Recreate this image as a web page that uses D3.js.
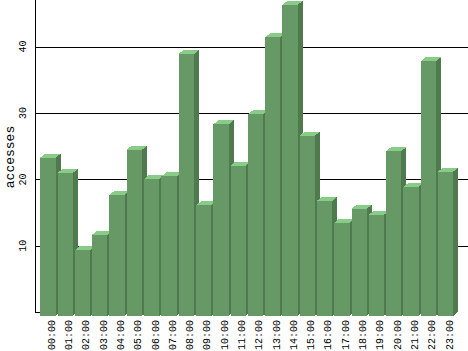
<!DOCTYPE html>
<html>
<head>
<meta charset="utf-8">
<script src="https://cdn.jsdelivr.net/npm/d3@7"></script>
<style>
  body { margin: 0; background: #fff; }
  text { font-family: "Liberation Mono", "DejaVu Sans Mono", monospace; fill: #000; }
</style>
</head>
<body>
<div id="chart"></div>
<script>
// hourly accesses
const hours = ["00:00","01:00","02:00","03:00","04:00","05:00","06:00","07:00",
               "08:00","09:00","10:00","11:00","12:00","13:00","14:00","15:00",
               "16:00","17:00","18:00","19:00","20:00","21:00","22:00","23:00"];
const accesses = [23.8, 21.5, 9.9, 12.2, 18.2, 25.0, 20.6, 21.0,
                  39.4, 16.6, 28.8, 22.6, 30.3, 41.9, 46.8, 27.1,
                  17.3, 14.0, 16.1, 15.2, 24.8, 19.4, 38.3, 21.7];
const yTicks = [10, 20, 30, 40];

const W = 468, H = 351;
const axisX = 35.5;
const dx = 5, dy = 4, shift = 3.5; // 3d depth and front face offset

const svg = d3.select("#chart").append("svg")
    .attr("width", W)
    .attr("height", H);

const y = d3.scaleLinear().domain([0, 47]).range([312.3, 0]);
const x = d3.scaleBand().domain(hours).range([40.3, 455.3]).padding(0);
const barW = x.bandwidth() - 2;

// gridlines
svg.selectAll(".grid")
    .data(yTicks)
    .enter().append("line")
    .attr("x1", axisX).attr("x2", W)
    .attr("y1", d => Math.round(y(d)) + 0.5)
    .attr("y2", d => Math.round(y(d)) + 0.5)
    .attr("stroke", "#000").attr("stroke-width", 1);

// zero stub
svg.append("line")
    .attr("x1", axisX).attr("x2", 41)
    .attr("y1", Math.round(y(0)) + 0.5).attr("y2", Math.round(y(0)) + 0.5)
    .attr("stroke", "#000");

// y axis line
svg.append("line")
    .attr("x1", axisX).attr("x2", axisX)
    .attr("y1", 0).attr("y2", Math.round(y(0)) + 1)
    .attr("stroke", "#000");

// bars
const bars = svg.selectAll(".bar")
    .data(hours.map((h, i) => ({ h, v: accesses[i] })))
    .enter().append("g")
    .attr("class", "bar")
    .attr("shape-rendering", "crispEdges");

bars.append("path") // side
    .attr("fill", "#4e7a4e")
    .attr("d", d => {
        const x1 = x(d.h) + barW, t = y(d.v) + shift, b = y(0) + shift;
        return `M${x1},${t}L${x1 + dx},${t - dy}L${x1 + dx},${b - dy}L${x1},${b}Z`;
    });

bars.append("path") // top
    .attr("fill", "#88cc88")
    .attr("d", d => {
        const x0 = x(d.h), x1 = x0 + barW, t = y(d.v) + shift;
        return `M${x0},${t}L${x0 + dx},${t - dy}L${x1 + dx},${t - dy}L${x1},${t}Z`;
    });

bars.append("rect") // front
    .attr("fill", "#669966")
    .attr("x", d => x(d.h))
    .attr("y", d => y(d.v) + shift)
    .attr("width", barW)
    .attr("height", d => y(0) - y(d.v));

// x labels
svg.selectAll(".xl")
    .data(hours)
    .enter().append("text")
    .attr("transform", d => `translate(${x(d) + 12},320) rotate(-90)`)
    .attr("text-anchor", "end")
    .attr("dominant-baseline", "central")
    .style("font-size", "10px")
    .text(d => d);

// y tick labels
svg.selectAll(".yl")
    .data(yTicks)
    .enter().append("text")
    .attr("transform", d => `translate(23,${y(d)}) rotate(-90)`)
    .attr("text-anchor", "middle")
    .attr("dominant-baseline", "central")
    .style("font-size", "10px")
    .text(d => d);

// y title
svg.append("text")
    .attr("transform", "translate(10,157) rotate(-90)")
    .attr("text-anchor", "middle")
    .attr("dominant-baseline", "central")
    .style("font-size", "13px")
    .text("accesses");
</script>
</body>
</html>
